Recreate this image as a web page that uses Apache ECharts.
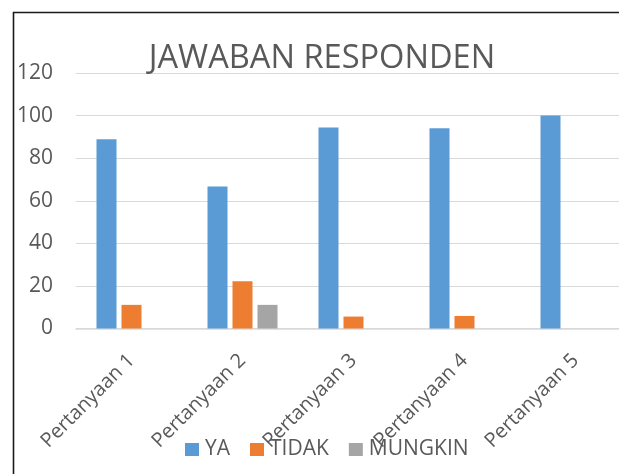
<!DOCTYPE html>
<html>
<head>
<meta charset="utf-8">
<script src="https://cdn.jsdelivr.net/npm/echarts@6/dist/echarts.min.js"></script>
<style>
html,body{margin:0;padding:0;background:#fff;}
#chart{width:619px;height:474px;}
</style>
</head>
<body>
<div id="chart"></div>
<script>
const categories = ['Pertanyaan 1', 'Pertanyaan 2', 'Pertanyaan 3', 'Pertanyaan 4', 'Pertanyaan 5'];
const seriesNames = ['YA', 'TIDAK', 'MUNGKIN'];
const ya = [88.9, 66.7, 94.4, 94.1, 100];
const tidak = [11.1, 22.2, 5.6, 5.9, 0];
const mungkin = [0, 11.1, 0, 0, 0];
const yTicks = [0, 20, 40, 60, 80, 100, 120];
const colors = ['#5B9BD5', '#ED7D31', '#A5A5A5'];
const titleText = 'JAWABAN RESPONDEN';

const FONT = '"Open Sans", "Liberation Sans", sans-serif';
const TXT = '#595959';

const chart = echarts.init(document.getElementById('chart'), null, {renderer: 'canvas'});
const values = [ya, tidak, mungkin];
chart.setOption({
  animation: false,
  backgroundColor: '#fff',
  color: colors,
  title: {
    text: titleText,
    left: 317, textAlign: 'center',
    top: 37,
    textStyle: {fontFamily: FONT, fontSize: 32.6, fontWeight: 'normal', color: TXT}
  },
  legend: {
    data: seriesNames,
    left: 185, top: 439,
    padding: 0,
    itemWidth: 14, itemHeight: 13, itemGap: 20,
    icon: 'rect',
    textStyle: {fontFamily: FONT, fontSize: 21, color: TXT, padding: [0,0,0,1]}
  },
  grid: {left: 76, width: 555, top: 73, bottom: 145.5, containLabel: false, outerBoundsMode: 'none'},
  xAxis: {
    type: 'category',
    data: categories,
    axisLine: {show: true, lineStyle: {color: '#D9D9D9', width: 1.5}},
    axisTick: {show: false},
    axisLabel: {rotate: 45, margin: 29, fontFamily: FONT, fontSize: 20, color: TXT, interval: 0}
  },
  yAxis: {
    type: 'value',
    min: 0, max: 120, interval: 20,
    axisLine: {show: false},
    axisTick: {show: false},
    splitLine: {lineStyle: {color: '#D9D9D9', width: 1.2}},
    axisLabel: {margin: 23, fontFamily: FONT, fontSize: 21, color: TXT,
      formatter: v => yTicks.includes(v) ? String(v) : ''}
  },
  series: seriesNames.map((n, i) => ({
    name: n,
    type: 'bar',
    data: values[i],
    barWidth: 20,
    barGap: '25%',
    itemStyle: {color: colors[i]}
  })),
  graphic: [{
    type: 'polyline',
    shape: {points: [[13.5, 480], [13.5, 12.5], [630, 12.5]]},
    style: {stroke: '#1a1a1a', lineWidth: 1.6, fill: null},
    z: 100
  }]
});
</script>
</body>
</html>
